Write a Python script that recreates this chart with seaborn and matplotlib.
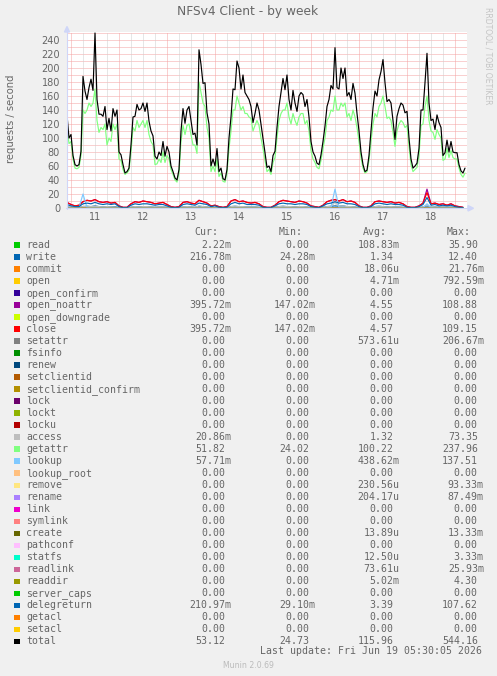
import numpy as np
import pandas as pd
import matplotlib
matplotlib.use("Agg")
import matplotlib.pyplot as plt
from matplotlib.patches import Rectangle, Polygon
from matplotlib.lines import Line2D
import seaborn as sns

sns.set_theme(style="white")
plt.rcParams["font.family"] = ["DejaVu Sans"]

# ---------------- data ----------------
# hours relative to midnight of day 11 (hourly samples, 10th 22:00 .. 19th 05:00)
hours = np.arange(-2, 198)
total = [133, 100, 105, 75, 62, 60, 62, 81, 188, 167, 155, 172, 184, 168, 250, 155, 134, 134, 131, 145, 112, 128, 110, 142, 131, 140,
         80, 76, 62, 50, 52, 57, 90, 130, 131, 148, 140, 142, 150, 138, 150, 124, 110, 103, 74, 70, 80, 75, 95, 74,
         88, 80, 60, 52, 43, 40, 55, 110, 142, 121, 140, 145, 125, 105, 107, 90, 226, 205, 178, 179, 136, 120, 60, 70,
         60, 85, 52, 57, 42, 40, 55, 100, 130, 170, 169, 210, 200, 170, 190, 165, 160, 155, 145, 122, 135, 150, 140, 120,
         100, 79, 58, 60, 52, 75, 81, 115, 145, 165, 185, 169, 190, 155, 140, 168, 150, 138, 160, 165, 162, 145, 155, 130,
         95, 80, 74, 64, 62, 76, 95, 117, 145, 155, 175, 170, 229, 172, 170, 200, 185, 200, 160, 165, 155, 178, 164, 135,
         110, 80, 62, 52, 54, 75, 110, 143, 167, 160, 183, 195, 212, 179, 152, 155, 150, 125, 98, 131, 142, 150, 147, 136,
         138, 100, 70, 57, 60, 64, 85, 140, 140, 179, 221, 150, 125, 127, 112, 133, 122, 115, 75, 79, 97, 80, 95, 80,
         79, 79, 62, 53, 50, 57]
getattr_ = [115, 92, 95, 70, 57, 56, 58, 75, 140, 135, 140, 150, 145, 150, 170, 125, 108, 115, 112, 120, 90, 100, 95, 120, 112, 120,
            70, 68, 55, 48, 50, 54, 80, 115, 110, 125, 115, 120, 125, 115, 125, 105, 95, 90, 62, 63, 70, 65, 80, 65,
            75, 70, 55, 48, 40, 37, 50, 95, 118, 105, 118, 120, 105, 90, 90, 78, 180, 165, 150, 145, 115, 100, 52, 60,
            52, 70, 45, 50, 38, 37, 50, 85, 110, 140, 140, 160, 150, 140, 145, 135, 135, 130, 128, 110, 118, 125, 118, 100,
            85, 68, 52, 55, 48, 65, 72, 100, 125, 135, 140, 140, 150, 130, 120, 135, 125, 118, 130, 135, 135, 120, 125, 110,
            82, 70, 65, 58, 56, 68, 85, 100, 125, 130, 140, 138, 160, 140, 140, 150, 145, 150, 130, 135, 125, 140, 130, 115,
            95, 72, 57, 50, 52, 68, 95, 120, 135, 130, 145, 150, 160, 145, 128, 130, 125, 108, 88, 110, 120, 125, 122, 115,
            118, 88, 62, 52, 55, 58, 75, 118, 120, 145, 160, 125, 110, 108, 98, 112, 105, 100, 68, 70, 85, 72, 82, 72,
            70, 70, 57, 48, 44, 50]

# two-hourly samples for the small series
hours2 = np.arange(-2, 198, 2)
close = [8, 5, 3, 4, 9, 11, 10, 12, 9, 8, 9, 7, 8,
         3, 1, 1, 6, 9, 8, 10, 9, 8, 6, 7, 8,
         5, 2, 1, 2, 8, 9, 7, 6, 11, 9, 7, 3,
         4, 2, 1, 2, 10, 12, 9, 10, 8, 7, 8, 6,
         2, 1, 1, 4, 9, 11, 10, 9, 8, 10, 9, 7,
         3, 2, 1, 4, 9, 11, 12, 10, 12, 9, 10, 8,
         3, 1, 1, 3, 9, 10, 9, 8, 9, 7, 8, 6,
         2, 1, 1, 3, 7, 22, 6, 7, 5, 6, 4, 6,
         3, 2, 1]
open_noattr = [8, 5, 3, 4, 9, 11, 10, 12, 9, 8, 9, 7, 8,
               3, 1, 1, 6, 9, 8, 10, 9, 8, 6, 7, 8,
               5, 2, 1, 2, 8, 9, 7, 6, 11, 9, 7, 3,
               4, 2, 1, 2, 10, 12, 9, 10, 8, 7, 8, 6,
               2, 1, 1, 4, 9, 11, 10, 9, 8, 10, 9, 7,
               3, 2, 1, 4, 9, 11, 12, 10, 12, 9, 10, 8,
               3, 1, 1, 3, 9, 10, 9, 8, 9, 7, 8, 6,
               2, 1, 1, 3, 7, 27, 6, 7, 5, 6, 4, 6,
               3, 2, 1]
delegreturn = [5, 3, 2, 2, 6, 7, 6, 8, 6, 5, 6, 5, 6,
               2, 0.5, 0.5, 4, 6, 5, 6, 6, 5, 4, 5, 5,
               3, 1, 0.5, 1, 5, 6, 5, 4, 7, 6, 5, 2,
               3, 1, 0.5, 1, 6, 8, 6, 7, 5, 5, 5, 4,
               1, 0.5, 0.5, 3, 6, 7, 6, 6, 5, 6, 6, 5,
               2, 1, 0.5, 3, 6, 7, 9, 7, 8, 6, 6, 5,
               2, 0.5, 0.5, 2, 6, 7, 6, 5, 6, 5, 5, 4,
               1, 0.5, 0.5, 2, 5, 15, 4, 5, 3, 4, 3, 4,
               2, 1, 0.5]
write = [1.5, 1, 0.5, 0.5, 2, 2.5, 2, 3, 2, 1.5, 2, 1.5, 2,
         0.5, 0.2, 0.2, 1, 2, 1.5, 2, 2, 1.5, 1, 1.5, 1.5,
         1, 0.3, 0.2, 0.3, 1.5, 2, 1.5, 1, 2.5, 2, 1.5, 0.5,
         0.5, 0.2, 0.2, 0.3, 2, 2.5, 2, 2, 1.5, 1.5, 1.5, 1,
         0.3, 0.2, 0.2, 1, 2, 2.5, 2, 2, 1.5, 2, 2, 1.5,
         0.5, 0.3, 0.2, 1, 2, 2.5, 3, 2.5, 3, 2, 2, 1.5,
         0.5, 0.2, 0.2, 0.5, 2, 2.5, 2, 1.5, 2, 1.5, 1.5, 1,
         0.3, 0.2, 0.2, 0.5, 1.5, 3, 1, 1.5, 1, 1.5, 1, 1.5,
         0.5, 0.3, 0.2]
access = [1.5, 1, 0.5, 0.5, 2, 2.5, 2, 2.5, 2, 1.5, 2, 1.5, 1.5,
          0.5, 0.2, 0.2, 1, 2, 1.5, 2, 2, 1.5, 1, 1.5, 1.5,
          1, 0.3, 0.2, 0.3, 1.5, 2, 1.5, 1, 3, 2, 1.5, 0.5,
          0.5, 0.2, 0.2, 0.3, 2, 2.5, 2, 2, 1.5, 1.5, 1.5, 1,
          0.3, 0.2, 0.2, 1, 2, 2.5, 2, 2, 1.5, 2, 2, 1.5,
          0.5, 0.3, 0.2, 1, 2, 2.5, 8, 2.5, 3, 2, 2, 1.5,
          0.5, 0.2, 0.2, 0.5, 2, 2.5, 2, 1.5, 2, 1.5, 1.5, 1,
          0.3, 0.2, 0.2, 0.5, 1.5, 4, 1, 1.5, 1, 1.5, 1, 1.5,
          0.5, 0.3, 0.2]
lookup = [0.5, 0.3, 0.2, 0.3, 20, 0.8, 0.6, 0.7, 0.5, 0.5, 0.6, 0.4, 0.5,
          0.2, 0.1, 0.1, 0.4, 0.6, 0.5, 0.6, 0.6, 0.5, 0.4, 0.5, 0.5,
          0.3, 0.1, 0.1, 0.1, 0.5, 0.6, 0.5, 0.4, 0.8, 0.6, 0.5, 0.2,
          0.2, 0.1, 0.1, 0.1, 0.6, 0.7, 0.6, 0.6, 0.5, 0.5, 0.5, 0.4,
          0.1, 0.1, 0.1, 0.3, 0.6, 0.7, 0.6, 0.6, 0.5, 0.6, 0.6, 0.5,
          0.2, 0.1, 0.1, 0.3, 0.6, 0.7, 27, 0.7, 0.8, 0.6, 0.6, 0.5,
          0.2, 0.1, 0.1, 0.2, 0.6, 0.7, 0.6, 0.5, 0.6, 0.5, 0.5, 0.4,
          0.1, 0.1, 0.1, 0.2, 0.5, 6, 0.4, 0.5, 0.3, 0.4, 0.3, 0.4,
          0.2, 0.1, 0.1]

day_ticks = [12, 36, 60, 84, 108, 132, 156, 180]
day_labels = ["11", "12", "13", "14", "15", "16", "17", "18"]
y_ticks = list(range(0, 241, 20))

names = ["read", "write", "commit", "open", "open_confirm", "open_noattr", "open_downgrade", "close",
         "setattr", "fsinfo", "renew", "setclientid", "setclientid_confirm", "lock", "lockt", "locku",
         "access", "getattr", "lookup", "lookup_root", "remove", "rename", "link", "symlink", "create",
         "pathconf", "statfs", "readlink", "readdir", "server_caps", "delegreturn", "getacl", "setacl", "total"]
colors = ["#00CC00", "#0066B3", "#FF8000", "#FFCC00", "#330099", "#990099", "#CCFF00", "#FF0000",
          "#808080", "#008F00", "#00487D", "#B35A00", "#B38F00", "#6B006B", "#8FB300", "#B30000",
          "#BEBEBE", "#80FF80", "#80C9FF", "#FFC080", "#FFE680", "#AA80FF", "#EE00CC", "#FF8080", "#666600",
          "#FFBFFF", "#00FFCC", "#CC6699", "#999900", "#00CC00", "#0066B3", "#FF8000", "#FFCC00", "#000000"]
cur = ["2.22m", "216.78m", "0.00", "0.00", "0.00", "395.72m", "0.00", "395.72m", "0.00", "0.00", "0.00",
       "0.00", "0.00", "0.00", "0.00", "0.00", "20.86m", "51.82", "57.71m", "0.00", "0.00", "0.00", "0.00",
       "0.00", "0.00", "0.00", "0.00", "0.00", "0.00", "0.00", "210.97m", "0.00", "0.00", "53.12"]
mins = ["0.00", "24.28m", "0.00", "0.00", "0.00", "147.02m", "0.00", "147.02m", "0.00", "0.00", "0.00",
        "0.00", "0.00", "0.00", "0.00", "0.00", "0.00", "24.02", "0.00", "0.00", "0.00", "0.00", "0.00",
        "0.00", "0.00", "0.00", "0.00", "0.00", "0.00", "0.00", "29.10m", "0.00", "0.00", "24.73"]
avgs = ["108.83m", "1.34", "18.06u", "4.71m", "0.00", "4.55", "0.00", "4.57", "573.61u", "0.00", "0.00",
        "0.00", "0.00", "0.00", "0.00", "0.00", "1.32", "100.22", "438.62m", "0.00", "230.56u", "204.17u",
        "0.00", "0.00", "13.89u", "0.00", "12.50u", "73.61u", "5.02m", "0.00", "3.39", "0.00", "0.00", "115.96"]
maxs = ["35.90", "12.40", "21.76m", "792.59m", "0.00", "108.88", "0.00", "109.15", "206.67m", "0.00", "0.00",
        "0.00", "0.00", "0.00", "0.00", "0.00", "73.35", "237.96", "137.51", "0.00", "93.33m", "87.49m",
        "0.00", "0.00", "13.33m", "0.00", "3.33m", "25.93m", "4.30", "0.00", "107.62", "0.00", "0.00", "544.16"]

series = {
    "write": (hours2, write),
    "open_noattr": (hours2, open_noattr),
    "close": (hours2, close),
    "access": (hours2, access),
    "getattr": (hours, getattr_),
    "lookup": (hours2, lookup),
    "delegreturn": (hours2, delegreturn),
    "total": (hours, total),
}

# ---------------- figure ----------------
W, H = 497, 676
fig = plt.figure(figsize=(W / 100, H / 100), dpi=100)
fig.patch.set_facecolor("#F0F0F0")


def fx(x):
    return x / W


def fy(y):
    return 1 - y / H


X0, X1, Y0, Y1 = 67, 467, 208, 31.6
ax = fig.add_axes([fx(X0), fy(Y0), (X1 - X0) / W, (Y0 - Y1) / H])
ax.set_facecolor("white")
for s in ax.spines.values():
    s.set_visible(False)
ax.grid(False)
ax.set_xlim(-2, 198)
ax.set_ylim(0, 252)

dot = (0, (1, 1))
MG = "#F5A3A3"
for v in range(10, 251, 10):
    ax.axhline(v, color=MG, lw=0.72, ls=dot, zorder=0.5)
for hh in range(0, 198, 6):
    if hh % 24:
        ax.axvline(hh, color="#CFCFCF", lw=0.72, ls=dot, zorder=0.5)
for hh in range(0, 198, 24):
    ax.axvline(hh, color=MG, lw=0.72, ls=dot, zorder=0.6)

for name, col in zip(names, colors):
    if name in series:
        xs, ys = series[name]
    else:
        xs, ys = hours2, np.zeros(len(hours2))
    sns.lineplot(x=xs, y=ys, ax=ax, color=col, linewidth=0.85, legend=False,
                 estimator=None, errorbar=None, zorder=2)

ax.set_xticks(day_ticks)
ax.set_xticklabels(day_labels)
ax.set_yticks(y_ticks)
ax.set_yticklabels([str(v) for v in y_ticks])
ax.tick_params(axis="both", length=0, labelsize=7, colors="#666666")
ax.tick_params(axis="y", pad=5)
ax.tick_params(axis="x", pad=3)
ax.set_xlabel("")
ax.set_ylabel("")

# axis lines with arrows
AX = "#CFD6F8"
fig.add_artist(Line2D([fx(67), fx(67)], [fy(208.5), fy(30)], transform=fig.transFigure, color=AX, lw=0.8))
fig.add_artist(Polygon([(fx(64.5), fy(32)), (fx(69.5), fy(32)), (fx(67), fy(26.5))], closed=True,
                       transform=fig.transFigure, color=AX))
fig.add_artist(Line2D([fx(66), fx(470)], [fy(208.3), fy(208.3)], transform=fig.transFigure, color=AX, lw=0.8, zorder=0))
fig.add_artist(Polygon([(fx(468), fy(205.5)), (fx(468), fy(211)), (fx(473.5), fy(208.3))], closed=True,
                       transform=fig.transFigure, color=AX))

TXT = "#666666"
fig.text(fx(248), fy(12), "NFSv4 Client - by week", ha="center", va="center", fontsize=8.8, color=TXT)
fig.text(fx(11), fy(119), "requests / second", rotation=90, ha="center", va="center", fontsize=7.2, color=TXT)
fig.text(fx(488), fy(56), "RRDTOOL / TOBI OETIKER", rotation=270, ha="center", va="center", fontsize=5.5,
         color="#C4C4C4")

# legend table (monospace, laid out on a fixed character grid)
MONO = ["DejaVu Sans Mono"]
FS = 7.1
CW = 0.602 * FS * 100 / 72
for lbl, xl in zip(["Cur:", "Min:", "Avg:", "Max:"], [194, 278.5, 362.5, 446.5]):
    fig.text(fx(xl), fy(235.3), lbl, ha="left", va="baseline", family=MONO, fontsize=FS, color=TXT)

cell_end = [224.9, 309.1, 393.3, 477.5]
for i, (name, col) in enumerate(zip(names, colors)):
    yb = 247.7 + 12.01 * i
    top = 242.3 + 12.01 * i
    fig.add_artist(Rectangle((fx(14), fy(top + 5.6)), 6 / W, 5.6 / H, transform=fig.transFigure,
                             facecolor=col, edgecolor="none"))
    fig.text(fx(26.3), fy(yb), name, ha="left", va="baseline", family=MONO, fontsize=FS, color=TXT)
    for s, ce in zip([cur[i], mins[i], avgs[i], maxs[i]], cell_end):
        ndig = len(s) - 1 if s[-1].isalpha() else len(s)
        fig.text(fx(ce - ndig * CW), fy(yb), s, ha="left", va="baseline", family=MONO, fontsize=FS, color=TXT)

fig.text(fx(482.5), fy(654.5), "Last update: Fri Jun 19 05:30:05 2026", ha="right", va="baseline",
         family=MONO, fontsize=FS, color=TXT)
fig.text(fx(248.5), fy(665.5), "Munin 2.0.69", ha="center", va="center", fontsize=5.6, color="#BBBBBB")

fig.savefig("out.png", dpi=100, facecolor=fig.get_facecolor())
